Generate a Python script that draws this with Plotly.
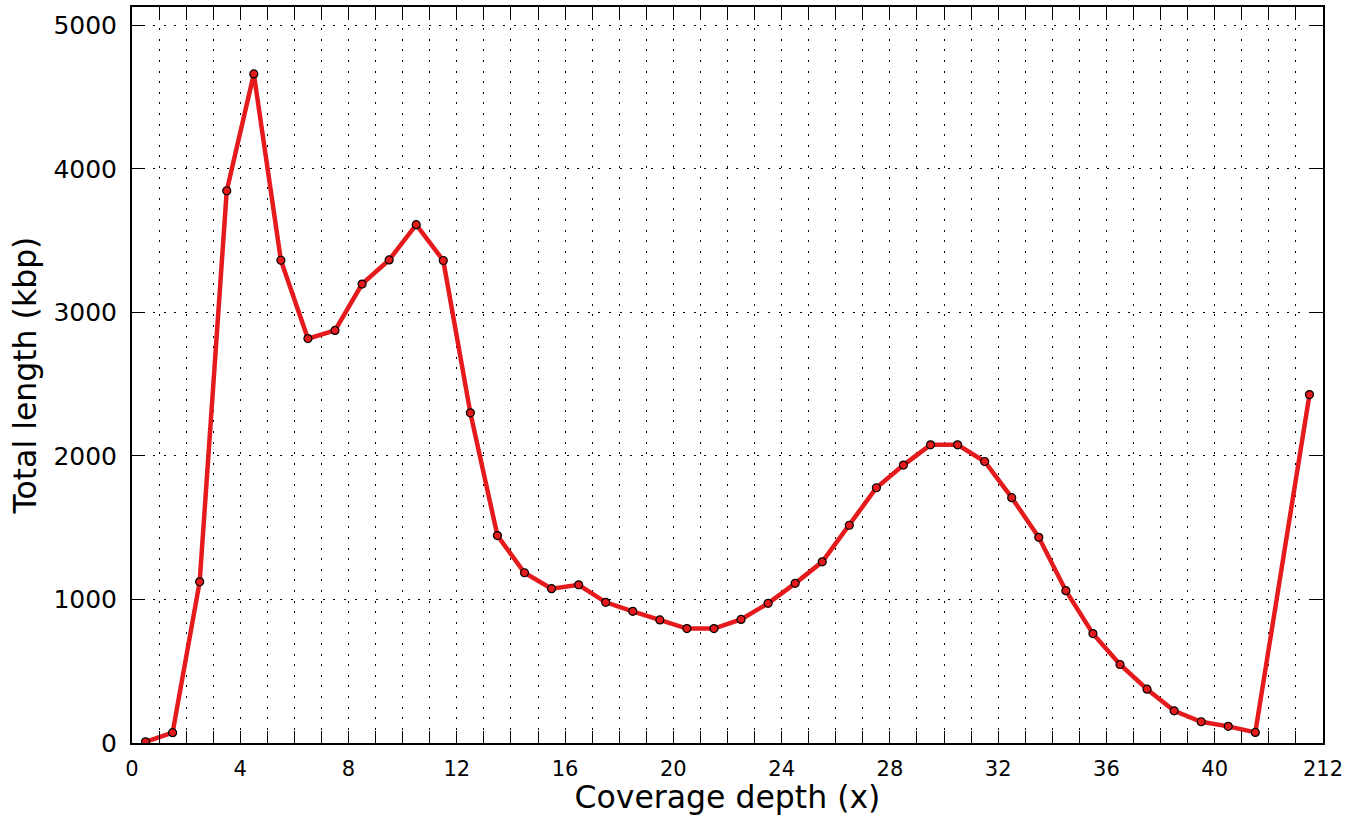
import plotly.graph_objects as go

# Data
depth_x = [0.5, 1.5, 2.5, 3.5, 4.5, 5.5, 6.5, 7.5, 8.5, 9.5,
           10.5, 11.5, 12.5, 13.5, 14.5, 15.5, 16.5, 17.5, 18.5, 19.5,
           20.5, 21.5, 22.5, 23.5, 24.5, 25.5, 26.5, 27.5, 28.5, 29.5,
           30.5, 31.5, 32.5, 33.5, 34.5, 35.5, 36.5, 37.5, 38.5, 39.5,
           40.5, 41.5, 43.5]
total_length_kbp = [8, 72, 1123, 3847, 4661, 3363, 2817, 2874, 3197, 3365,
                    3611, 3361, 2300, 1445, 1186, 1075, 1102, 980, 917, 857,
                    797, 797, 861, 973, 1112, 1262, 1517, 1778, 1936, 2077,
                    2077, 1961, 1709, 1433, 1061, 762, 547, 375, 224, 148,
                    116, 74, 2427]

x_tick_vals = [0, 4, 8, 12, 16, 20, 24, 28, 32, 36, 40, 44]
x_tick_text = ["0", "4", "8", "12", "16", "20", "24", "28", "32", "36", "40", "212"]
y_tick_vals = [0, 1000, 2000, 3000, 4000, 5000]

FONT = "DejaVu Sans"
DOT = "2px,8.6px"

fig = go.Figure()
fig.add_trace(go.Scatter(
    x=depth_x, y=total_length_kbp, mode="lines+markers",
    line=dict(color="#e41a1c", width=4.5),
    marker=dict(size=8, color="#e41a1c", line=dict(color="black", width=1.2)),
    showlegend=False,
))

fig.update_layout(
    width=1360, height=815,
    margin=dict(l=132, r=37, t=5, b=72),
    paper_bgcolor="white", plot_bgcolor="white",
    font=dict(family=FONT, color="black"),
)

fig.update_xaxes(
    range=[0, 44], tickmode="array", tickvals=x_tick_vals, ticktext=x_tick_text,
    ticks="inside", ticklen=12, tickwidth=1.3, tickcolor="black",
    showline=True, linewidth=2, linecolor="black", mirror="ticks",
    showgrid=True, gridcolor="black", gridwidth=1.4, griddash=DOT,
    zeroline=False,
    tickfont=dict(size=21, family=FONT, color="black"),
    ticklabelstandoff=6,
    minor=dict(dtick=1, tick0=0, ticks="inside", ticklen=12, tickwidth=1.3,
               tickcolor="black", showgrid=True, gridcolor="black",
               gridwidth=1.4, griddash=DOT),
    title=dict(text="Coverage depth (x)", font=dict(size=31.5, family=FONT, color="black"),
               standoff=2),
)

fig.update_yaxes(
    range=[0, 5127], tickmode="array", tickvals=y_tick_vals,
    ticks="inside", ticklen=12, tickwidth=1.3, tickcolor="black",
    showline=True, linewidth=2, linecolor="black", mirror="ticks",
    showgrid=True, gridcolor="black", gridwidth=1.4, griddash=DOT,
    zeroline=False,
    tickfont=dict(size=25, family=FONT, color="black"),
    ticklabelstandoff=8,
    title=dict(text="Total length (kbp)", font=dict(size=31.5, family=FONT, color="black"),
               standoff=7),
)

fig.write_html("out.html", config={"displayModeBar": False},
               post_script="document.body.style.margin='0';document.body.style.padding='0';")
